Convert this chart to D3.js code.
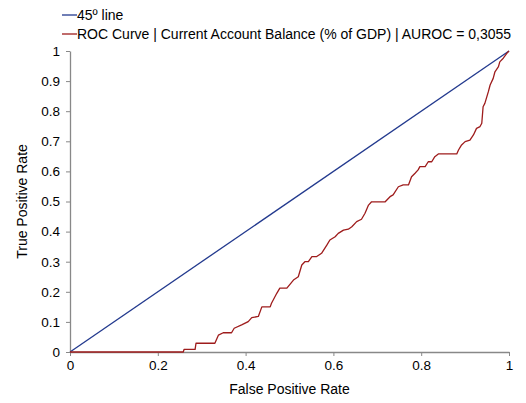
<!DOCTYPE html>
<html>
<head>
<meta charset="utf-8">
<script src="https://cdn.jsdelivr.net/npm/d3@7"></script>
<style>
  body { margin: 0; background: #fff; }
  text { font-family: "Liberation Sans", Arial, sans-serif; fill: #000; }
</style>
</head>
<body>
<div id="chart"></div>
<script>
  // data
  var legendLabels = ["45º line", "ROC Curve | Current Account Balance (% of GDP) | AUROC = 0,3055"];
  var diagX = [0, 1];
  var diagY = [0, 1];
  var rocFpr = [0, 0.258, 0.260, 0.285, 0.287, 0.330, 0.338, 0.349, 0.368, 0.374, 0.391, 0.406, 0.414, 0.429,
    0.437, 0.456, 0.459, 0.471, 0.478, 0.494, 0.509, 0.520, 0.528, 0.535, 0.543, 0.551, 0.562, 0.573, 0.585,
    0.592, 0.604, 0.611, 0.623, 0.634, 0.642, 0.653, 0.664, 0.672, 0.680, 0.687, 0.718, 0.729, 0.736, 0.748,
    0.759, 0.771, 0.778, 0.786, 0.793, 0.797, 0.809, 0.816, 0.824, 0.831, 0.839, 0.881, 0.885, 0.892, 0.900,
    0.911, 0.919, 0.926, 0.934, 0.938, 0.941, 0.945, 0.953, 0.957, 0.964, 0.968, 0.976, 0.979, 0.987, 0.995, 1];
  var rocTpr = [0, 0, 0.009, 0.009, 0.029, 0.029, 0.056, 0.064, 0.064, 0.079, 0.090, 0.101, 0.114, 0.118,
    0.150, 0.150, 0.162, 0.195, 0.212, 0.212, 0.239, 0.250, 0.289, 0.300, 0.300, 0.317, 0.317, 0.328, 0.355,
    0.372, 0.383, 0.394, 0.405, 0.408, 0.416, 0.433, 0.441, 0.461, 0.488, 0.499, 0.499, 0.516, 0.522, 0.549,
    0.555, 0.555, 0.582, 0.594, 0.605, 0.616, 0.616, 0.632, 0.632, 0.649, 0.658, 0.658, 0.671, 0.688, 0.699,
    0.704, 0.721, 0.743, 0.749, 0.760, 0.815, 0.826, 0.865, 0.887, 0.909, 0.931, 0.948, 0.964, 0.976, 0.992, 1];
  var xTicks = [0, 0.2, 0.4, 0.6, 0.8, 1];
  var yTicks = [0, 0.1, 0.2, 0.3, 0.4, 0.5, 0.6, 0.7, 0.8, 0.9, 1];
  var colors = ["#233a8e", "#9e1c1c"];

  var width = 526, height = 403;
  var margin = {left: 70, right: 17, top: 51, bottom: 51};

  var svg = d3.select("#chart").append("svg")
    .attr("width", width)
    .attr("height", height);

  var x = d3.scaleLinear().domain([0, 1]).range([margin.left, width - margin.right]);
  var y = d3.scaleLinear().domain([0, 1]).range([height - margin.bottom, margin.top]);

  // axes
  var xAxis = svg.append("g")
    .attr("transform", "translate(0," + y(0) + ")")
    .call(d3.axisBottom(x).tickValues(xTicks).tickFormat(d3.format("")).tickSizeInner(4).tickSizeOuter(0).tickPadding(4));
  var yAxis = svg.append("g")
    .attr("transform", "translate(" + x(0) + ",0)")
    .call(d3.axisLeft(y).tickValues(yTicks).tickFormat(d3.format("")).tickSizeInner(4).tickSizeOuter(0).tickPadding(6));
  [xAxis, yAxis].forEach(function(a) {
    a.select(".domain").attr("stroke", "#888").attr("stroke-width", 1.3);
    a.selectAll(".tick line").attr("stroke", "#888");
    a.selectAll(".tick text").style("font-family", "Liberation Sans, Arial, sans-serif").style("font-size", "13.5px").attr("fill", "#000");
  });

  svg.append("text")
    .attr("x", (x(0) + x(1)) / 2)
    .attr("y", 394)
    .attr("text-anchor", "middle")
    .style("font-size", "14px")
    .text("False Positive Rate");
  svg.append("text")
    .attr("transform", "translate(27," + (y(0) + y(1)) / 2 + ") rotate(-90)")
    .attr("text-anchor", "middle")
    .style("font-size", "14px")
    .text("True Positive Rate");

  // lines
  var line = d3.line().x(d => x(d[0])).y(d => y(d[1]));
  svg.append("path")
    .datum(diagX.map((v, i) => [v, diagY[i]]))
    .attr("d", line)
    .attr("fill", "none")
    .attr("stroke", colors[0])
    .attr("stroke-width", 1.3);
  svg.append("path")
    .datum(rocFpr.map((v, i) => [v, rocTpr[i]]))
    .attr("d", line)
    .attr("fill", "none")
    .attr("stroke", colors[1])
    .attr("stroke-width", 1.3)
    .attr("stroke-linejoin", "round");

  // legend
  var legend = svg.append("g");
  legendLabels.forEach(function(lbl, i) {
    var ly = 15 + i * 19;
    legend.append("line")
      .attr("x1", 62).attr("x2", 77)
      .attr("y1", ly).attr("y2", ly)
      .attr("stroke", colors[i])
      .attr("stroke-width", 1.3);
    legend.append("text")
      .attr("x", 77).attr("y", ly + 5)
      .style("font-size", "14px")
      .text(lbl);
  });
</script>
</body>
</html>
